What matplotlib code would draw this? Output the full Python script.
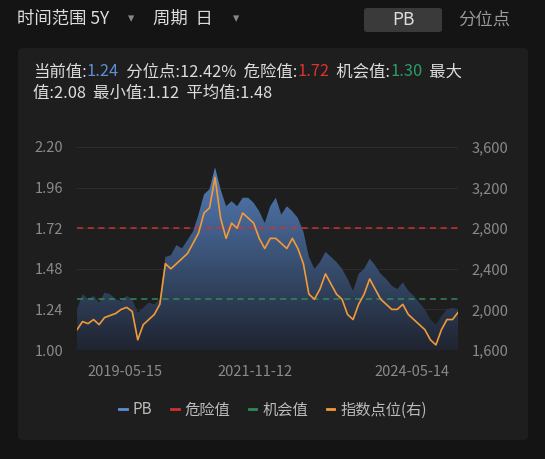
import numpy as np
import matplotlib.pyplot as plt
from matplotlib.patches import FancyBboxPatch
from matplotlib.lines import Line2D
from matplotlib.colors import LinearSegmentedColormap

plt.rcParams['font.family'] = ['Noto Sans CJK SC', 'DejaVu Sans']

pb = [1.24, 1.33, 1.30, 1.32, 1.28, 1.34, 1.33, 1.30, 1.29, 1.32, 1.30, 1.22, 1.25, 1.28, 1.27,
      1.30, 1.55, 1.56, 1.62, 1.60, 1.65, 1.70, 1.80, 1.92, 1.95, 2.08, 1.95, 1.85, 1.88, 1.85,
      1.90, 1.90, 1.87, 1.82, 1.75, 1.85, 1.90, 1.80, 1.85, 1.82, 1.78, 1.70, 1.55, 1.48, 1.52,
      1.58, 1.55, 1.52, 1.48, 1.42, 1.35, 1.45, 1.48, 1.54, 1.50, 1.45, 1.42, 1.38, 1.36, 1.40,
      1.35, 1.32, 1.28, 1.24, 1.18, 1.15, 1.20, 1.24, 1.25, 1.24]
index = [1800, 1880, 1860, 1900, 1850, 1920, 1940, 1960, 2000, 2020, 1980, 1700, 1850, 1900, 1950,
         2050, 2450, 2400, 2450, 2500, 2550, 2650, 2750, 2950, 3000, 3300, 2900, 2700, 2850, 2800,
         2950, 2900, 2850, 2700, 2600, 2700, 2700, 2650, 2600, 2700, 2600, 2450, 2150, 2100, 2200,
         2350, 2250, 2150, 2100, 1950, 1900, 2050, 2150, 2300, 2200, 2100, 2050, 2000, 2000, 2050,
         1950, 1900, 1850, 1800, 1700, 1650, 1800, 1900, 1900, 1970]
date_labels = ['2019-05-15', '2021-11-12', '2024-05-14']
date_pos = [0.126, 0.467, 0.879]
danger, chance = 1.72, 1.30

W, H = 545, 459
fig = plt.figure(figsize=(W / 100, H / 100), dpi=100)
fig.patch.set_facecolor('#141414')

panel = FancyBboxPatch((18 / W, 1 - 440 / H), 510 / W, 392 / H, boxstyle='round,pad=0,rounding_size=0.01',
                       transform=fig.transFigure, facecolor='#1e1e1e', edgecolor='none', zorder=-5)
fig.patches.append(panel)
btn = FancyBboxPatch((364 / W, 1 - 32 / H), 78 / W, 24 / H, boxstyle='round,pad=0,rounding_size=0.005',
                     transform=fig.transFigure, facecolor='#3a3a3a', edgecolor='none', zorder=-5)
fig.patches.append(btn)

fig.text(17 / W, 1 - 19 / H, '时间范围 5Y', color='#dddddd', fontsize=12.5, va='center')
fig.text(128 / W, 1 - 19 / H, '▾', color='#888888', fontsize=9, va='center', family='DejaVu Sans')
fig.text(153 / W, 1 - 19 / H, '周期  日', color='#dddddd', fontsize=12.5, va='center')
fig.text(233 / W, 1 - 19 / H, '▾', color='#888888', fontsize=9, va='center', family='DejaVu Sans')
fig.text(403 / W, 1 - 20 / H, 'PB', color='#dddddd', fontsize=12.5, va='center', ha='center')
fig.text(484 / W, 1 - 20 / H, '分位点', color='#999999', fontsize=12.5, va='center', ha='center')

parts = [('当前值:', '#dddddd'), ('1.24', '#5b8fd6'), ('  分位点:12.42%  危险值:', '#dddddd'),
         ('1.72', '#e03030'), ('  机会值:', '#dddddd'), ('1.30', '#2f9a6a'), ('  最大', '#dddddd')]
x = 33 / W
for s, c in parts:
    t = fig.text(x, 1 - 72 / H, s, color=c, fontsize=11.8, va='center')
    fig.canvas.draw()
    x += t.get_window_extent().width / W
fig.text(33 / W, 1 - 93 / H, '值:2.08  最小值:1.12  平均值:1.48', color='#dddddd', fontsize=11.8, va='center')

ax = fig.add_axes([77 / W, 1 - 350 / H, 381 / W, 203 / H])
ax.set_facecolor('#1e1e1e')
n = len(pb)
xs = np.arange(n)
ax.set_xlim(0, n - 1)
ax.set_ylim(1.0, 2.2)
ax.set_yticks([1.00, 1.24, 1.48, 1.72, 1.96, 2.20])
ax.set_yticklabels(['1.00', '1.24', '1.48', '1.72', '1.96', '2.20'])
ax.grid(axis='y', color='#2c2c2c', lw=0.8)
ax.set_axisbelow(True)

grad = np.linspace(0, 1, 256).reshape(-1, 1)
cmap = LinearSegmentedColormap.from_list('g', ['#1f2430', '#5a88c8'])
img = ax.imshow(grad, extent=[0, n - 1, 1.0, 2.2], origin='lower', aspect='auto', cmap=cmap, zorder=1)
poly = ax.fill_between(xs, 1.0, pb, color='none')
img.set_clip_path(poly.get_paths()[0], transform=ax.transData)

ax.axhline(danger, color='#d03030', ls=(0, (4, 3)), lw=1.1, zorder=3)
ax.axhline(chance, color='#2f8a5a', ls=(0, (4, 3)), lw=1.1, zorder=3)

ax2 = ax.twinx()
ax2.set_ylim(1600, 3600)
ax2.set_yticks([1600, 2000, 2400, 2800, 3200, 3600])
ax2.set_yticklabels(['1,600', '2,000', '2,400', '2,800', '3,200', '3,600'])
ax2.plot(xs, index, color='#f29a38', lw=1.2, zorder=4)

for a in (ax, ax2):
    for sp in a.spines.values():
        sp.set_visible(False)
    a.tick_params(length=0, colors='#8a8a8a', labelsize=10.5)
ax.tick_params(axis='y', pad=10)
ax2.tick_params(axis='y', pad=10)
ax.set_xticks([p * (n - 1) for p in date_pos])
ax.set_xticklabels(date_labels)
ax.tick_params(axis='x', pad=11)

handles = [Line2D([], [], color=c, ls='-', lw=2)
           for c in ['#5b8fd6', '#d03030', '#2f8a5a', '#f29a38']]
fig.legend(handles, ['PB', '危险值', '机会值', '指数点位(右)'], loc='center', ncol=4,
           bbox_to_anchor=(273 / W, 1 - 410 / H), frameon=False, labelcolor='#bbbbbb',
           fontsize=11, handlelength=0.5, columnspacing=1.2, handletextpad=0.4)

fig.savefig('out.png', dpi=100, facecolor=fig.get_facecolor())
